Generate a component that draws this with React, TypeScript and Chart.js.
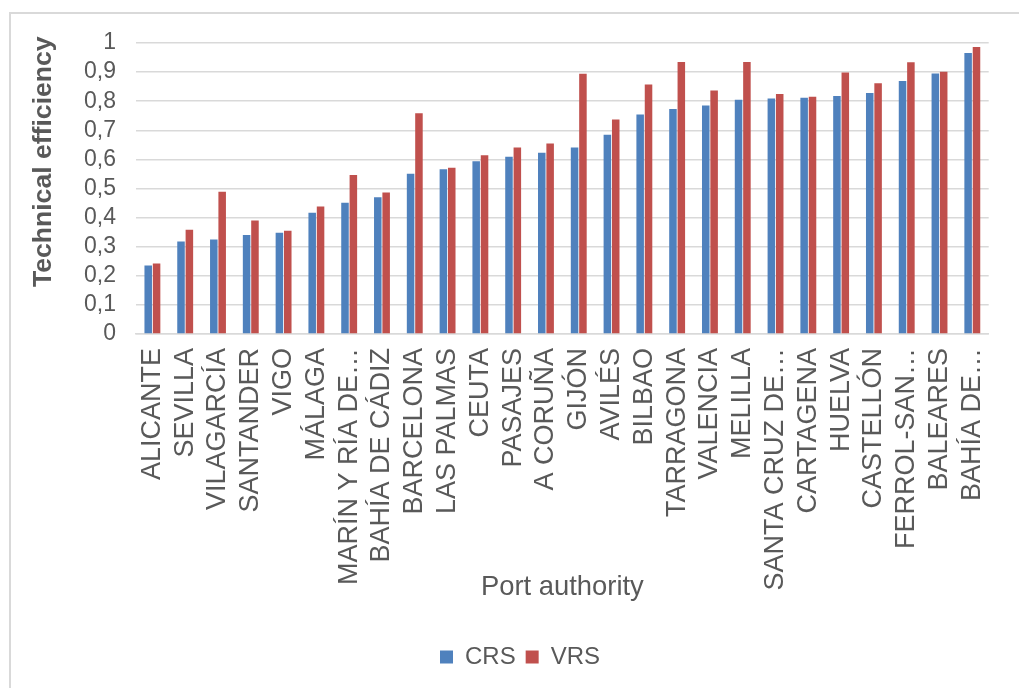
import React, { useEffect, useRef } from "react";
import { Chart, registerables } from "chart.js";

Chart.register(...registerables);

const ports = [
  "ALICANTE", "SEVILLA", "VILAGARCÍA", "SANTANDER", "VIGO", "MÁLAGA",
  "MARÍN Y RÍA DE…", "BAHÍA DE CÁDIZ", "BARCELONA", "LAS PALMAS", "CEUTA",
  "PASAJES", "A CORUÑA", "GIJÓN", "AVILÉS", "BILBAO", "TARRAGONA", "VALENCIA",
  "MELILLA", "SANTA CRUZ DE…", "CARTAGENA", "HUELVA", "CASTELLÓN",
  "FERROL-SAN…", "BALEARES", "BAHÍA DE…",
];

const crs = [
  0.235, 0.318, 0.325, 0.34, 0.348, 0.417, 0.451, 0.47, 0.551, 0.566, 0.594,
  0.609, 0.623, 0.641, 0.685, 0.754, 0.773, 0.785, 0.805, 0.809, 0.812, 0.818,
  0.828, 0.869, 0.895, 0.966,
];

const vrs = [
  0.242, 0.358, 0.489, 0.39, 0.355, 0.438, 0.546, 0.486, 0.759, 0.571, 0.614,
  0.641, 0.655, 0.894, 0.737, 0.857, 0.935, 0.837, 0.935, 0.825, 0.815, 0.899,
  0.862, 0.934, 0.901, 0.986,
];

const yTickLabels = ["0", "0,1", "0,2", "0,3", "0,4", "0,5", "0,6", "0,7", "0,8", "0,9", "1"];

const FONT = '"Liberation Sans", Arial, Helvetica, sans-serif';
const TEXT = "#595959";
const GRID = "#d9d9d9";

// Outer frame of the chart object
const framePlugin = {
  id: "frame",
  beforeDraw(chart: Chart) {
    const { ctx } = chart;
    ctx.save();
    ctx.fillStyle = "#ffffff";
    ctx.fillRect(0, 0, chart.width, chart.height);
    ctx.strokeStyle = GRID;
    ctx.lineWidth = 2;
    ctx.strokeRect(10, 13, chart.width + 20, chart.height + 20);
    ctx.restore();
  },
};

// Nudge the legend row a little to the right of the canvas centre
const legendShiftPlugin = {
  id: "legendShift",
  afterLayout(chart: any) {
    const lg = chart.legend;
    if (lg) {
      lg.left += 18;
      lg.right += 18;
    }
  },
};

// Vertical value-axis title
const yTitlePlugin = {
  id: "yTitle",
  afterDraw(chart: Chart) {
    const { ctx, chartArea } = chart;
    const cy = chartArea.top + (chartArea.bottom - chartArea.top) * 0.408;
    ctx.save();
    ctx.translate(44, cy);
    ctx.rotate(-Math.PI / 2);
    ctx.font = `bold 26.6px ${FONT}`;
    ctx.fillStyle = TEXT;
    ctx.textAlign = "center";
    ctx.textBaseline = "middle";
    ctx.fillText("Technical efficiency", 0, 0);
    ctx.restore();
  },
};

export default function App() {
  const canvasRef = useRef<HTMLCanvasElement | null>(null);

  useEffect(() => {
    if (!canvasRef.current) return;
    Chart.defaults.font.family = FONT;
    const chart = new Chart(canvasRef.current, {
      type: "bar",
      data: {
        labels: ports,
        datasets: [
          {
            label: "CRS",
            data: crs,
            backgroundColor: "#4f81bd",
            categoryPercentage: 0.51,
            barPercentage: 0.9,
          },
          {
            label: "VRS",
            data: vrs,
            backgroundColor: "#c0504d",
            categoryPercentage: 0.51,
            barPercentage: 0.9,
          },
        ],
      },
      options: {
        responsive: false,
        animation: false,
        devicePixelRatio: 1,
        layout: { padding: { left: 0, right: 15, top: 43, bottom: 9 } },
        plugins: {
          legend: {
            position: "bottom",
            labels: {
              boxWidth: 13,
              boxHeight: 13,
              padding: 10,
              color: TEXT,
              font: { size: 24 },
            },
          },
          tooltip: { enabled: false },
        },
        scales: {
          x: {
            grid: { display: false, drawTicks: false },
            border: { display: true, color: GRID, width: 1.5 },
            ticks: {
              autoSkip: false,
              minRotation: 90,
              maxRotation: 90,
              padding: 14,
              color: TEXT,
              font: { size: 27 },
            },
            title: {
              display: true,
              text: "Port authority",
              color: TEXT,
              font: { size: 27.4 },
              padding: { top: 0, bottom: 31 },
            },
            afterFit(scale: any) {
              scale.height = 301;
            },
          },
          y: {
            min: 0,
            max: 1,
            grid: { color: GRID, lineWidth: 1.5, drawTicks: false },
            border: { display: false },
            ticks: {
              stepSize: 0.1,
              autoSkip: false,
              padding: 20,
              color: TEXT,
              font: { size: 23 },
              callback: (_v: any, i: number) => yTickLabels[i],
            },
            afterFit(scale: any) {
              scale.width = 136;
            },
          },
        },
      },
      plugins: [framePlugin, legendShiftPlugin, yTitlePlugin],
    });
    return () => chart.destroy();
  }, []);

  return (
    <div style={{ position: "fixed", left: 0, top: 0, width: 1019, height: 688 }}>
      <canvas ref={canvasRef} width={1019} height={688} />
    </div>
  );
}
